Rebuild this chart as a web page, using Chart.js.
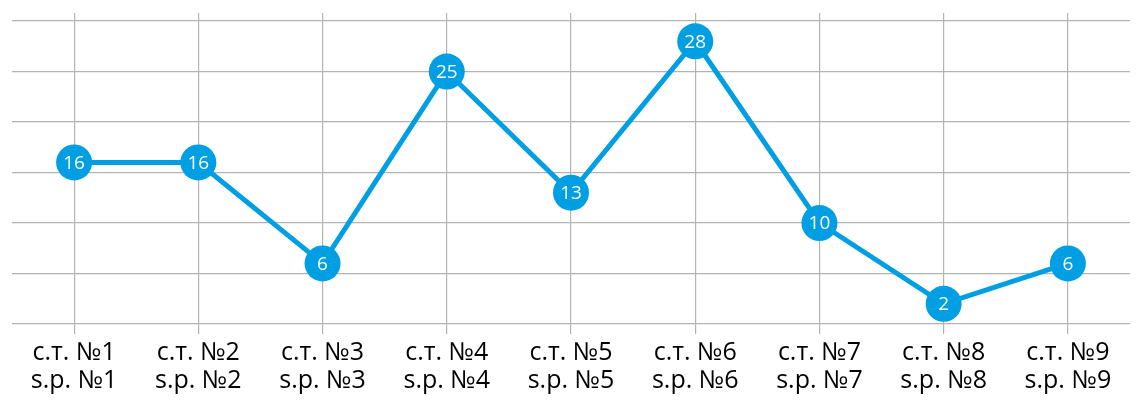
<!DOCTYPE html>
<html>
<head>
<meta charset="utf-8">
<script src="https://cdn.jsdelivr.net/npm/chart.js@4.4.1/dist/chart.umd.min.js"></script>
<style>
    html, body { margin: 0; padding: 0; background: #fff; }
    #wrap { width: 1146px; height: 407px; position: relative; }
</style>
</head>
<body>
<div id="wrap"><canvas id="lineChart"></canvas></div>
<script>
// Chart data
const ruLabels = ['с.т. №1', 'с.т. №2', 'с.т. №3', 'с.т. №4', 'с.т. №5', 'с.т. №6', 'с.т. №7', 'с.т. №8', 'с.т. №9'];
const latLabels = ['s.p. №1', 's.p. №2', 's.p. №3', 's.p. №4', 's.p. №5', 's.p. №6', 's.p. №7', 's.p. №8', 's.p. №9'];
const values = [16, 16, 6, 25, 13, 28, 10, 2, 6];

const blue = '#009fe3';
const gridColor = '#b3b3b3';

// Draw the value inside each point
const pointLabels = {
    id: 'pointLabels',
    afterDatasetsDraw(chart) {
        const ctx = chart.ctx;
        const meta = chart.getDatasetMeta(0);
        ctx.save();
        ctx.font = '19px "Open Sans"';
        ctx.fillStyle = '#fff';
        ctx.textAlign = 'center';
        ctx.textBaseline = 'middle';
        meta.data.forEach((pt, i) => {
            ctx.fillText(String(values[i]), pt.x, pt.y + 1);
        });
        ctx.restore();
    }
};

const ctx = document.getElementById('lineChart').getContext('2d');
new Chart(ctx, {
    type: 'line',
    data: {
        labels: ruLabels.map((r, i) => [r, latLabels[i]]),
        datasets: [{
            data: values,
            borderColor: blue,
            backgroundColor: blue,
            borderWidth: 5,
            pointRadius: 18,
            pointBorderWidth: 0,
            pointBackgroundColor: blue,
            tension: 0,
            clip: false
        }]
    },
    options: {
        responsive: true,
        maintainAspectRatio: false,
        animation: false,
        layout: {
            autoPadding: false,
            padding: { left: 12, right: 16, top: 13, bottom: 0 }
        },
        plugins: {
            legend: { display: false },
            tooltip: { enabled: false }
        },
        scales: {
            x: {
                offset: true,
                afterFit: (axis) => { axis.height = 83; },
                border: { display: false },
                grid: {
                    color: gridColor,
                    lineWidth: 1.2,
                    tickLength: 10
                },
                ticks: {
                    color: '#000',
                    padding: 5,
                    maxRotation: 0,
                    autoSkip: false,
                    font: {
                        family: 'Open Sans',
                        size: 25,
                        lineHeight: 1.12
                    }
                }
            },
            y: {
                min: 0,
                max: 30.8,
                afterFit: (axis) => { axis.width = 0; },
                border: { display: false },
                grid: {
                    color: gridColor,
                    lineWidth: 1.2,
                    drawTicks: false
                },
                ticks: {
                    display: false,
                    stepSize: 5,
                    includeBounds: false
                }
            }
        }
    },
    plugins: [pointLabels]
});
</script>
</body>
</html>
